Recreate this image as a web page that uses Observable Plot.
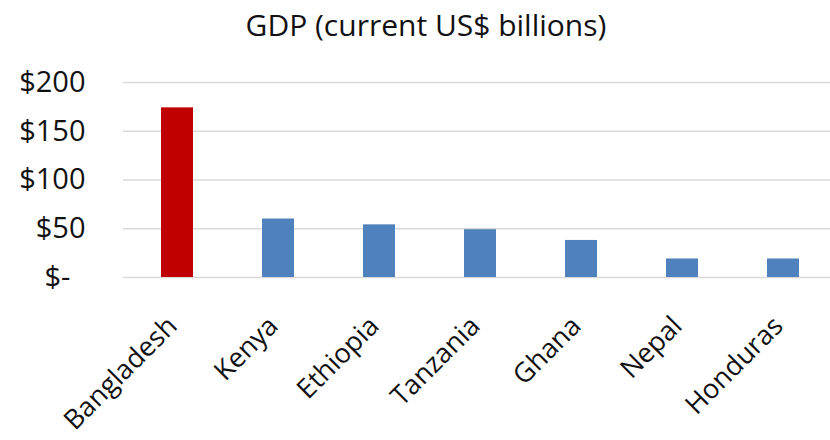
<!DOCTYPE html>
<html>
<head>
<meta charset="utf-8">
<script src="https://cdn.jsdelivr.net/npm/d3@7"></script>
<script src="https://cdn.jsdelivr.net/npm/@observablehq/plot@0.6"></script>
<style>
  html, body { margin: 0; padding: 0; background: #fff; }
  body { width: 830px; height: 440px; overflow: hidden; font-family: "Open Sans", sans-serif; }
  #title { height: 50px; text-align: center; font-size: 30px; line-height: 50px; color: #111; padding-left: 22px; box-sizing: border-box; }
  #chart svg { display: block; }
</style>
</head>
<body>
<div id="title">GDP (current US$ billions)</div>
<div id="chart"></div>
<script>
const countries = ["Bangladesh", "Kenya", "Ethiopia", "Tanzania", "Ghana", "Nepal", "Honduras"];
const gdp = [174, 60, 54, 49, 38, 19, 19];
const yTicks = [0, 50, 100, 150, 200];
const highlight = "Bangladesh";

const data = countries.map((c, i) => ({country: c, value: gdp[i]}));

const chart = Plot.plot({
  width: 830,
  height: 390,
  marginTop: 32,
  marginBottom: 163,
  marginLeft: 123,
  marginRight: -4,
  style: {fontFamily: "Open Sans, sans-serif", fontSize: "29px", color: "#111", background: "#fff"},
  x: {domain: countries, paddingInner: 0.68, paddingOuter: 0.34, insetLeft: 3, label: null},
  y: {domain: [0, 200], label: null},
  marks: [
    Plot.gridY(yTicks, {stroke: "#d9d9d9", strokeOpacity: 1, strokeWidth: 1.5}),
    Plot.barY(data, {x: "country", y: "value", fill: d => d.country === highlight ? "#c00000" : "#4f81bd"}),
    Plot.axisY(yTicks, {tickSize: 0, tickPadding: 38, tickFormat: d => d === 0 ? "$-\u00a0\u00a0" : "$" + d, fontSize: 29, label: null}),
    Plot.axisX({tickSize: 0, tickRotate: -45, tickPadding: 44, dx: -5, fontSize: 27, label: null})
  ]
});
document.getElementById("chart").appendChild(chart);
</script>
</body>
</html>
